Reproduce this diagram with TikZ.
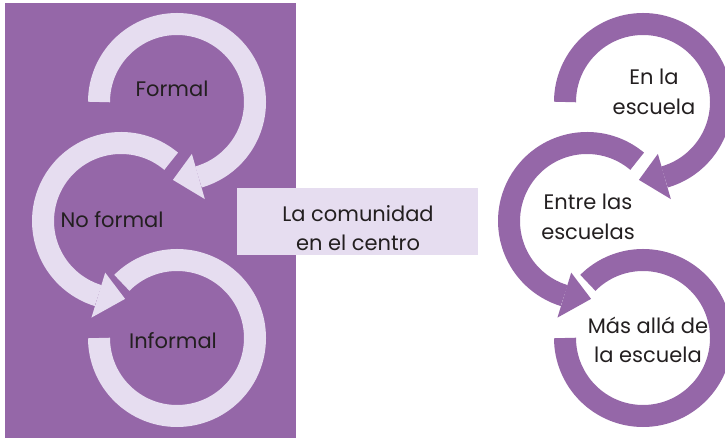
\documentclass[tikz,border=0pt]{standalone}
\usepackage{fontspec}
\setmainfont{Poppins}
\usepackage{xcolor}
\usepackage{tikz}
\usetikzlibrary{positioning}
\definecolor{lilac}{HTML}{9567A8}
\definecolor{lavender}{HTML}{E6DDF0}
\definecolor{ink}{HTML}{231F20}
\tikzset{
  ring/.style={line width=22pt, draw=#1},
  lbl/.style={text=ink, font=\fontsize{21}{29.5}\selectfont, align=center, inner sep=0pt},
  centrebox/.style={fill=lavender, minimum width=241pt, minimum height=67pt, inner sep=0pt}
}
% circular arrow: centre, start angle, end angle, tip angle, colour
\newcommand{\ringarrow}[5]{%
  \draw[ring=#5] ([shift={(#2:78)}]#1) arc[start angle=#2, end angle=#3, radius=78];
  \fill[#5] ([shift={(#3:54)}]#1) -- ([shift={(#3:101)}]#1) -- ([shift={(#4:78)}]#1) -- cycle;
}

\begin{document}
\begin{tikzpicture}[x=1pt,y=1pt]
\useasboundingbox (0,0) rectangle (725,441);

% Left panel
\fill[lilac] (5,3) rectangle (296,438);

% Ring centres
\coordinate (l1) at (177,339);
\coordinate (l2) at (121,220);
\coordinate (l3) at (177,103);
\coordinate (r1) at (643,339);
\coordinate (r2) at (587,220);
\coordinate (r3) at (643,103);

% Left rings
\ringarrow{l1}{180}{-74}{-93}{lavender}
\ringarrow{l2}{50}{253}{273}{lavender}
\draw[ring=lavender] ([shift={(135:78)}]l3) arc[start angle=135, end angle=-180, radius=78];

% Right rings
\begin{scope}
\clip (0,0) rectangle (725,441);
\ringarrow{r1}{180}{-74}{-93}{lilac}
\ringarrow{r2}{50}{253}{273}{lilac}
\draw[ring=lilac] ([shift={(135:78)}]r3) arc[start angle=135, end angle=-180, radius=78];
\end{scope}

% Labels
\node[lbl] (formal) at (172,352) {Formal};
\node[lbl] (noformal) at (112,221) {No formal};
\node[lbl] (informal) at (173,100) {Informal};

\node[lbl] (enla) at (654,349) {En la\\escuela};
\node[lbl] (entre) at (588,224) {Entre las\\escuelas};
\node[lbl] (masalla) at (648,101) {Más allá de\\la escuela};

% Centre box
\node[centrebox] (centre) at (357.5,219.5) {};
\node[lbl] (centretxt) at (358,213) {La comunidad\\en el centro};

\end{tikzpicture}
\end{document}
